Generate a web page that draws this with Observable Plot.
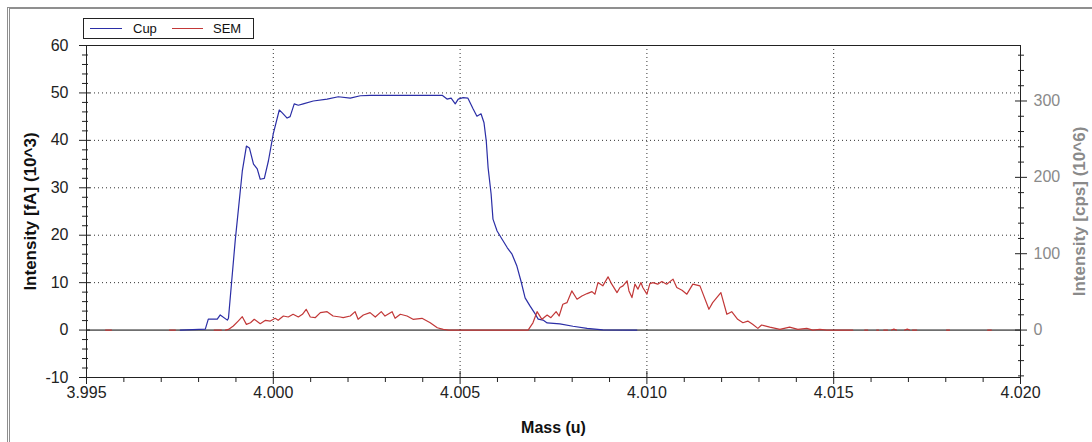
<!DOCTYPE html>
<html><head><meta charset="utf-8">
<script src="https://cdn.jsdelivr.net/npm/d3@7"></script>
<script src="https://cdn.jsdelivr.net/npm/@observablehq/plot@0.6"></script>
<style>
body{margin:0;background:#fff;font-family:'Liberation Sans',Arial,sans-serif;}
#wrap{position:relative;width:1092px;height:442px;overflow:hidden;}
#wrap svg{position:absolute;left:0;top:0;}
#border{position:absolute;left:7px;top:7px;width:1100px;height:450px;border-top:2px solid #8f8f8f;border-left:3px double #8f8f8f;pointer-events:none;}
#legend{position:absolute;left:83px;top:18px;width:169px;height:19px;border:1px solid #222;background:#fff;font-size:13px;color:#111;}
#legend .ln{position:absolute;top:9px;height:0;border-top:1.3px solid;}
#legend .tx{position:absolute;top:2px;line-height:15px;}
</style>
</head><body>
<div id="wrap"><div id="border"></div></div>
<script>
// ---- data ----
const seriesNames = ["Cup", "SEM"];
const seriesColors = ["#2b2ea6", "#c23838"];

const cupMass = [3.99751, 3.99818, 3.99826, 3.99850, 3.99858, 3.99877, 3.99880, 3.99898, 3.99917, 3.99928, 3.99936, 3.99947, 3.99957, 3.99965, 3.99976, 3.99987, 4.00000, 4.00016, 4.00024, 4.00037, 4.00045, 4.00056, 4.00067, 4.00080, 4.00107, 4.00144, 4.00174, 4.00206, 4.00233, 4.00260, 4.00452, 4.00465, 4.00476, 4.00487, 4.00495, 4.00508, 4.00521, 4.00535, 4.00545, 4.00556, 4.00564, 4.00570, 4.00575, 4.00583, 4.00588, 4.00599, 4.00612, 4.00626, 4.00639, 4.00652, 4.00663, 4.00674, 4.00687, 4.00701, 4.00709, 4.00722, 4.00733, 4.00767, 4.00802, 4.00840, 4.00882, 4.00973];
const cupFa = [0, 0.2, 2.3, 2.3, 3.2, 2.1, 2.5, 18.8, 33.5, 38.8, 38.4, 35.0, 34.0, 31.8, 32.0, 35.7, 41.4, 46.4, 45.8, 44.7, 45.0, 47.7, 47.4, 47.7, 48.3, 48.7, 49.2, 48.9, 49.4, 49.5, 49.5, 48.7, 48.9, 47.7, 48.7, 49.0, 48.9, 46.6, 45.1, 45.6, 43.7, 39.9, 34.2, 28.7, 23.4, 20.9, 19.2, 17.4, 16.0, 13.5, 10.3, 6.8, 5.1, 3.4, 2.3, 2.1, 1.5, 1.3, 0.8, 0.35, 0.05, 0];

// SEM intensity in cps (10^6); null = no data (gap)
const semMass = [3.99551, 3.99567, 3.99600,
  3.99722, 3.99738, 3.99790,
  3.99842, 3.99861, 3.99866,
  3.99872, 3.99880, 3.99893, 3.99906, 3.99917, 3.99928, 3.99939, 3.99949, 3.99965, 3.99979, 3.99992,
  4.00005, 4.00013, 4.00027, 4.00040, 4.00053, 4.00067, 4.00078, 4.00088, 4.00099, 4.00112, 4.00126,
  4.00144, 4.00160, 4.00179, 4.00187, 4.00206, 4.00219, 4.00227, 4.00241, 4.00259, 4.00273, 4.00289,
  4.00299, 4.00318, 4.00326, 4.00340, 4.00358, 4.00374, 4.00398, 4.00420, 4.00439, 4.00455, 4.00470,
  4.00682, 4.00695, 4.00706, 4.00719, 4.00733, 4.00743, 4.00757, 4.00765, 4.00775, 4.00786, 4.00799,
  4.00813, 4.00826, 4.00840, 4.00853, 4.00861, 4.00869, 4.00882, 4.00896, 4.00906, 4.00920, 4.00928,
  4.00936, 4.00947, 4.00952, 4.00960, 4.00968, 4.00976, 4.00984, 4.00989, 4.01000, 4.01008, 4.01016,
  4.01029, 4.01040, 4.01053, 4.01070, 4.01080, 4.01094, 4.01107, 4.01123, 4.01142, 4.01166, 4.01176,
  4.01198, 4.01214, 4.01227, 4.01243, 4.01257, 4.01270, 4.01283, 4.01297, 4.01307, 4.01329, 4.01356,
  4.01382, 4.01404, 4.01428, 4.01444, 4.01463, 4.01481, 4.01551, 4.01570,
  4.01583, 4.01591, 4.01600,
  4.01615, 4.01620, 4.01627,
  4.01634, 4.01644, 4.01650,
  4.01655, 4.01661, 4.01668, 4.01680,
  4.01690, 4.01697, 4.01703, 4.01707,
  4.01711, 4.01722, 4.01760,
  4.01802, 4.01810, 4.01860,
  4.01912, 4.01922];
const semCps = [0, 0, null,
  0, 0, null,
  0, 0, null,
  0, 0.9, 5.3, 11.8, 17.5, 7.5, 9.6, 14.1, 8.3, 12.8, 11.8,
  15.4, 12.8, 18.4, 17.1, 20.7, 17.1, 20.7, 27.2, 17.1, 16.2, 22.8,
  24.1, 18.4, 17.1, 16.2, 18.4, 24.1, 14.1, 19.7, 22.8, 17.1, 24.1,
  18.4, 24.1, 15.4, 20.7, 18.4, 14.1, 15.4, 9.6, 3.0, 0.9, 0,
  0, 9.5, 24.1, 14.1, 19.7, 16.2, 24.1, 18.4, 33.8, 35.9, 51.3,
  40.4, 44.7, 47.8, 50.4, 47.0, 62.2, 57.9, 69.7, 60.1, 49.1, 55.7,
  57.9, 64.5, 51.3, 42.5, 60.1, 53.6, 62.2, 55.7, 47.0, 60.9, 62.2,
  60.1, 63.6, 60.1, 66.7, 55.7, 52.2, 47.0, 60.1, 57.9, 27.2, 35.9,
  49.1, 20.7, 24.1, 14.1, 9.6, 11.8, 7.5, 2.2, 6.6, 3.9, 0.9,
  3.9, 0.9, 2.2, 0, 0.9, 0, 0, null,
  0, 0, null,
  0, 0, null,
  0, 0, null,
  0, 1.3, 0, null,
  0, 1.3, 0, null,
  0, 0, null,
  0, 0, null,
  0, 0];

const xMajorTicks = [3.995, 4.000, 4.005, 4.010, 4.015, 4.020];
const xMinorTicks = [3.996, 3.997, 3.998, 3.999, 4.001, 4.002, 4.003, 4.004, 4.006, 4.007, 4.008, 4.009, 4.011, 4.012, 4.013, 4.014, 4.016, 4.017, 4.018, 4.019];
const yMajorTicks = [-10, 0, 10, 20, 30, 40, 50, 60];
const yMinorTicks = [-8, -6, -4, -2, 2, 4, 6, 8, 12, 14, 16, 18, 22, 24, 26, 28, 32, 34, 36, 38, 42, 44, 46, 48, 52, 54, 56, 58];
const y2MajorTicks = [0, 100, 200, 300];
const y2MinorTicks = [-60, -40, -20, 20, 40, 60, 80, 120, 140, 160, 180, 220, 240, 260, 280, 320, 340, 360];

const xTitle = "Mass (u)";
const yTitle = "Intensity [fA] (10^3)";
const y2Title = "Intensity [cps] (10^6)";

// left units per right-axis unit (cps 10^6 -> fA 10^3 scale position)
const k = 0.161;

const cup = cupMass.map((m, i) => ({mass: m, fa: cupFa[i]}));
const sem = semMass.map((m, i) => ({mass: m, cps: semCps[i]}));

const font = "'Liberation Sans', Arial, sans-serif";
const chart = Plot.plot({
  width: 1092, height: 442,
  marginLeft: 86, marginRight: 72, marginTop: 45, marginBottom: 65,
  x: {domain: [3.995, 4.020]},
  y: {domain: [-10, 60]},
  style: {fontFamily: font, fontSize: "16px", background: "transparent", color: "#111", overflow: "visible"},
  marks: [
    Plot.gridX(xMajorTicks.slice(1, -1), {stroke: "#333", strokeOpacity: 1, strokeDasharray: "1,3"}),
    Plot.gridY(yMajorTicks.filter(v => v > 0 && v < 60), {stroke: "#333", strokeOpacity: 1, strokeDasharray: "1,3"}),
    Plot.ruleY([0], {stroke: "#000"}),
    Plot.frame({stroke: "#222"}),
    // tick marks
    Plot.axisY({anchor: "left", ticks: yMajorTicks, tickSize: 11, dx: 4, fill: "none", label: null, stroke: "#222"}),
    Plot.axisY({anchor: "left", ticks: yMinorTicks, tickSize: 6, dx: 2, fill: "none", label: null, stroke: "#222"}),
    Plot.axisX({anchor: "bottom", ticks: xMajorTicks, tickSize: 13, dy: -6, fill: "none", label: null, stroke: "#222"}),
    Plot.axisX({anchor: "bottom", ticks: xMinorTicks, tickSize: 5, fill: "none", label: null, stroke: "#222"}),
    Plot.axisY({anchor: "right", ticks: y2MajorTicks.map(v => v * k), tickSize: 12, dx: -6, fill: "none", label: null, stroke: "#222"}),
    Plot.axisY({anchor: "right", ticks: y2MinorTicks.map(v => v * k), tickSize: 6, dx: -3, fill: "none", label: null, stroke: "#222"}),
    // tick labels
    Plot.axisY({anchor: "left", ticks: yMajorTicks, tickFormat: d => String(d), tickSize: 0, tickPadding: 18, stroke: "none", fill: "#222", label: null}),
    Plot.axisX({anchor: "bottom", ticks: xMajorTicks, tickSize: 0, tickPadding: 9, stroke: "none", fill: "#222", label: null, tickFormat: d3.format(".3f")}),
    Plot.axisY({anchor: "right", ticks: y2MajorTicks.map(v => v * k), tickFormat: d => String(Math.round(d / k)), tickSize: 0, tickPadding: 13, stroke: "none", fill: "#8a8a8a", label: null}),
    // data
    Plot.line(cup, {x: "mass", y: "fa", stroke: seriesColors[0], strokeWidth: 1.2}),
    Plot.line(sem, {x: "mass", y: d => d.cps == null ? NaN : d.cps * k, stroke: seriesColors[1], strokeWidth: 1.2}),
    // titles
    Plot.text([yTitle], {text: d => d, frameAnchor: "left", textAnchor: "middle", lineAnchor: "middle", dx: -56, rotate: -90, fontWeight: "bold", fontSize: 17, fill: "#111"}),
    Plot.text([y2Title], {text: d => d, frameAnchor: "right", textAnchor: "middle", lineAnchor: "middle", dx: 59, rotate: -90, fontWeight: "bold", fontSize: 17, fill: "#8a8a8a"}),
    Plot.text([xTitle], {text: d => d, frameAnchor: "bottom", textAnchor: "middle", lineAnchor: "middle", dy: 50, fontWeight: "bold", fontSize: 16, fill: "#111"})
  ]
});
const wrap = document.getElementById("wrap");
wrap.insertBefore(chart, wrap.firstChild);

// legend
const lg = document.createElement("div");
lg.id = "legend";
const lnPos = [[6, 32, 49], [88, 31, 129]];
seriesNames.forEach((name, i) => {
  const ln = document.createElement("div");
  ln.className = "ln";
  ln.style.left = lnPos[i][0] + "px";
  ln.style.width = lnPos[i][1] + "px";
  ln.style.borderTopColor = seriesColors[i];
  lg.appendChild(ln);
  const tx = document.createElement("div");
  tx.className = "tx";
  tx.style.left = lnPos[i][2] + "px";
  tx.textContent = name;
  lg.appendChild(tx);
});
wrap.appendChild(lg);
</script>
</body></html>
